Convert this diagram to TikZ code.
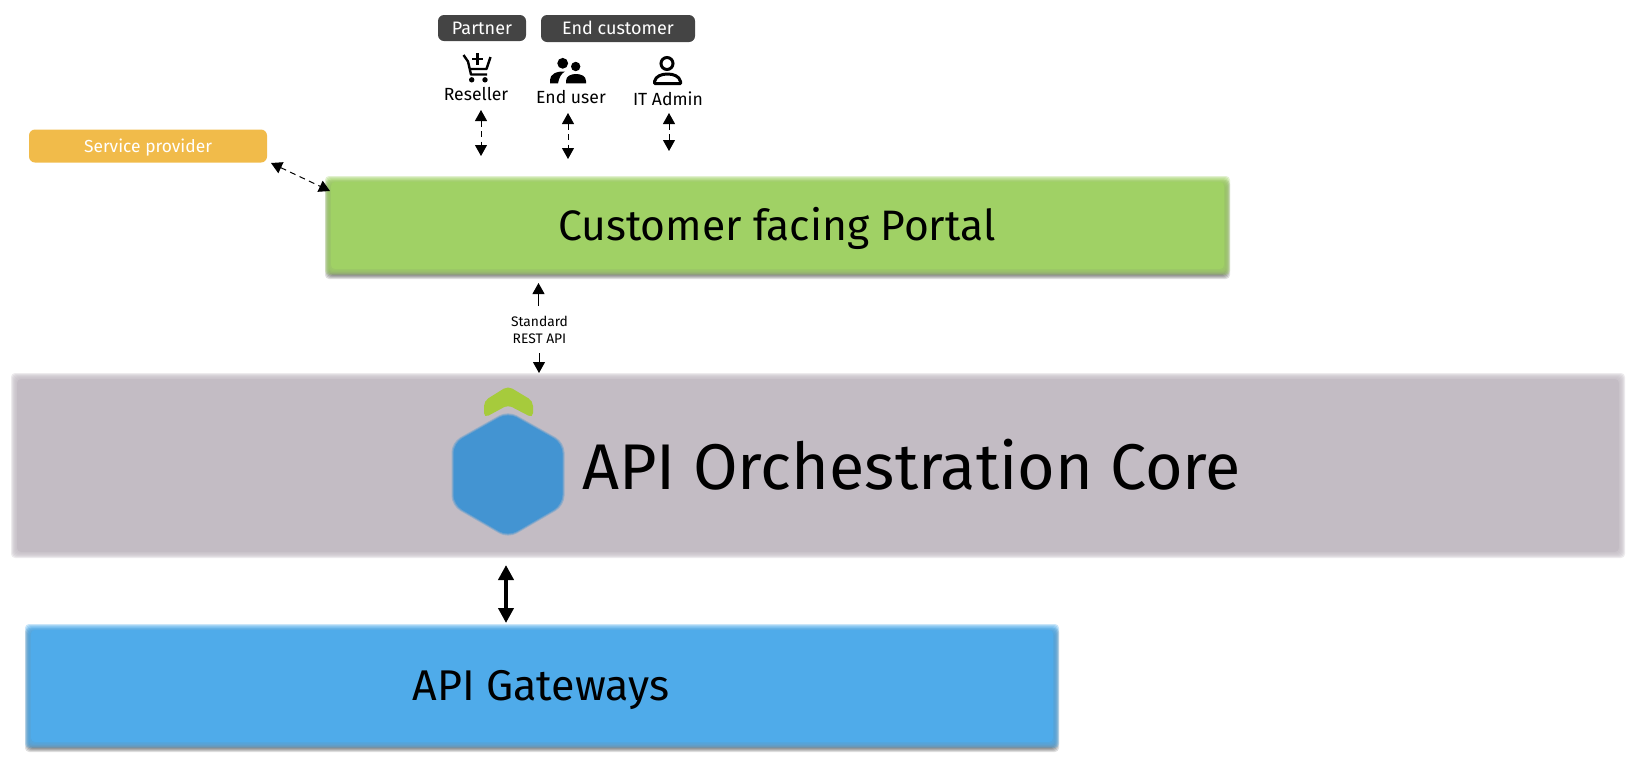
\documentclass[tikz,border=0pt]{standalone}
\usepackage{fontspec}
\setmainfont{Fira Sans}
\usetikzlibrary{arrows.meta}
\definecolor{portalgreen}{HTML}{A0D165}
\definecolor{coregrey}{HTML}{C3BCC4}
\definecolor{gatewayblue}{HTML}{4FABEA}
\definecolor{provideramber}{HTML}{F1BB4A}
\definecolor{tagdark}{HTML}{444444}
\definecolor{hexblue}{HTML}{4394D2}
\definecolor{hexgreen}{HTML}{A6CB3C}
\tikzset{
  tagbox/.style={rounded corners=3, inner sep=0pt, text=white, font=\fontsize{9}{9}\selectfont},
  rolelabel/.style={inner sep=0pt, text=black, font=\fontsize{8.8}{8.8}\selectfont},
  smalllabel/.style={inner sep=0pt, text=black, font=\fontsize{6.9}{6.9}\selectfont},
  biglabel/.style={inner sep=0pt, text=black},
  dashlink/.style={draw=black, line width=0.5pt, dash pattern=on 3pt off 2.2pt, {Triangle[length=5.5pt,width=6pt]}-{Triangle[length=5.5pt,width=6pt]}},
  thinarrow/.style={draw=black, line width=0.5pt, -{Triangle[length=5.5pt,width=6pt]}},
  heavylink/.style={draw=black, line width=2.2pt, {Triangle[length=7.5pt,width=7.5pt]}-{Triangle[length=7.5pt,width=7.5pt]}},
}
% Tag caption set on a fixed line, so the box height stays independent of the text
\newcommand{\tagtext}[1]{\raisebox{-3.2pt}[0pt][0pt]{#1}}
% Soft-edged slab: translucent rectangles build the fuzzy rim around a solid core
\newcommand{\softslab}[5]{%
  \foreach \d in {3,2,1,0,-1,-2}{%
    \fill[#5,opacity=0.3,rounded corners=2] (#1-\d,#2-\d) rectangle (#3+\d,#4+\d);
  }%
  \fill[#5,rounded corners=2] (#1+3,#2+3) rectangle (#3-3,#4-3);
}
% Faint dropped shadow beneath a slab
\newcommand{\softshadow}[4]{%
  \foreach \d in {3,2,1,0,-1}{%
    \fill[black,opacity=0.12,rounded corners=2] (#1-\d,#2-\d+4) rectangle (#3+\d,#4+\d+4);
  }%
}
\begin{document}
\begin{tikzpicture}[x=0.5pt,y=-0.5pt]
\useasboundingbox (0,0) rectangle (1650,772);

% Large layers
\softshadow{328}{179}{1227}{272}
\softslab{328}{179}{1227}{272}{portalgreen}
\softslab{14}{376}{1622}{555}{coregrey}
\softshadow{28}{627}{1056}{745}
\softslab{28}{627}{1056}{745}{gatewayblue}

\node[biglabel, font=\fontsize{21.3}{21.3}\selectfont] (portal) at (777,228) {Customer facing Portal};
\node[biglabel, font=\fontsize{32.3}{32.3}\selectfont, anchor=west] (core) at (582,465) {API Orchestration Core};
\node[biglabel, font=\fontsize{21.5}{21.5}\selectfont] (gateways) at (541,690) {API Gateways};

% Hexagon logo
\fill[hexgreen, rounded corners=2.5] (484,418) -- (484,401) -- (508,386) -- (533,401) -- (533,418) -- (508,405) -- cycle;
\foreach \d/\o in {1.5/0.35,0.5/0.5,-0.5/1}{%
  \fill[hexblue, opacity=\o, rounded corners=5] (508,412-\d) -- (563+\d,443-\d/2) -- (563+\d,505+\d/2) -- (508,537+\d) -- (453-\d,505+\d/2) -- (453-\d,443-\d/2) -- cycle;
}

% Audience tags
\node[tagbox, fill=tagdark, minimum width=44pt, minimum height=13pt] (partner) at (482,28) {\tagtext{Partner}};
\node[tagbox, fill=tagdark, minimum width=77pt, minimum height=13.5pt] (endcustomer) at (618,28.5) {\tagtext{End customer}};
\node[tagbox, fill=provideramber, minimum width=119pt, minimum height=16.5pt, font=\fontsize{8.7}{8.7}\selectfont] (provider) at (148,146) {\tagtext{Service provider}};

% Cart icon
\draw[line width=1.2pt, line join=round] (463.5,55) -- (468,61.5) -- (471,74.5) -- (487,74.5);
\draw[line width=1.2pt, line join=round] (490.5,57) -- (486.5,69) -- (470,69);
\draw[line width=1.2pt] (477.5,53) -- (477.5,65) (472,59) -- (483,59);
\fill (471.7,79.8) circle (2.7);
\fill (485,79.8) circle (2.7);

% Two-person icon
\fill (562.7,63.3) circle (5.4);
\fill (575.7,66.5) circle (4.7);
\fill (550,83.3) -- (550,80) .. controls (550,74.5) and (556,71) .. (565,71.5) .. controls (561,73.5) and (559,78) .. (558,83.3) -- cycle;
\fill (566,83.3) -- (566,81) .. controls (566,76) and (571,74) .. (576,74) .. controls (581,74) and (586,76) .. (586,81) -- (586,83.3) -- cycle;

% Single-person icon
\draw[line width=1.5pt] (667,63.5) circle (6);
\draw[line width=1.5pt, line join=round] (654.5,83.5) -- (654.5,81.5) .. controls (655.5,76) and (662,74) .. (667.5,74) .. controls (673,74) and (679.5,76) .. (680.5,81.5) -- (680.5,83.5) -- cycle;

% Role captions
\node[rolelabel] (reseller) at (476,94) {Reseller};
\node[rolelabel] (enduser) at (571,97) {End user};
\node[rolelabel] (itadmin) at (668,99) {IT Admin};
\node[smalllabel, align=center] (restapi) at (539.5,330) {Standard\\[1.6pt]REST API};

% Connector ends
\coordinate (resellerTop) at (481,110);
\coordinate (resellerEnd) at (481,156);
\coordinate (enduserTop) at (568,113);
\coordinate (enduserEnd) at (568,159);
\coordinate (itadminTop) at (669,113);
\coordinate (itadminEnd) at (669,151);
\coordinate (providerEnd) at (271,163);
\coordinate (portalCorner) at (330,191);
\coordinate (apiUpFrom) at (538.5,306);
\coordinate (apiUpTo) at (538.5,283);
\coordinate (apiDownFrom) at (539,353);
\coordinate (apiDownTo) at (539,373);
\coordinate (coreBelow) at (506,565);
\coordinate (gatewayAbove) at (506,623);

% Connectors
\draw[dashlink] (resellerTop) -- (resellerEnd);
\draw[dashlink] (enduserTop) -- (enduserEnd);
\draw[dashlink] (itadminTop) -- (itadminEnd);
\draw[dashlink] (providerEnd) -- (portalCorner);
\draw[thinarrow] (apiUpFrom) -- (apiUpTo);
\draw[thinarrow] (apiDownFrom) -- (apiDownTo);
\draw[heavylink] (coreBelow) -- (gatewayAbove);
\end{tikzpicture}
\end{document}
